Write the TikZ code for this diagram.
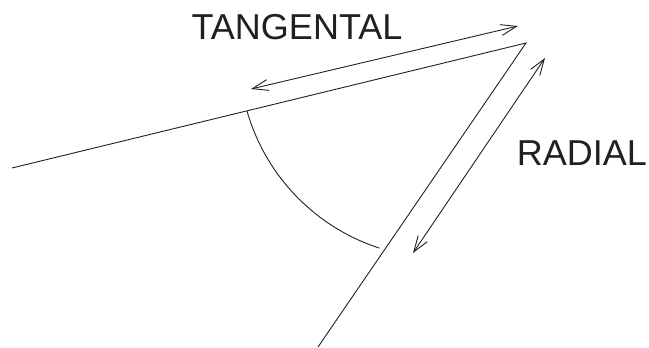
\documentclass[tikz,border=0pt]{standalone}
\usepackage{xcolor}
\usepackage{fontspec}
\setmainfont{Liberation Sans}
\usetikzlibrary{arrows.meta}
\definecolor{inkdark}{HTML}{231F20}

\begin{document}
\begin{tikzpicture}[x=1pt,y=-1pt,
  edge/.style={draw=inkdark,line width=0.9pt},
  arrow/.style={draw=inkdark,line width=0.9pt,{Straight Barb[length=16pt,width=11pt]}-{Straight Barb[length=16pt,width=11pt]}},
  label/.style={text=inkdark,inner sep=0pt,anchor=base,font=\fontsize{36}{40}\selectfont}
]
\useasboundingbox (0,0) rectangle (649,348);
% the two lines meeting at the vertex
\coordinate (vertex) at (526,43);
\coordinate (tanend) at (12,168);
\coordinate (radend) at (318,347);
\draw[edge] (tanend) -- (vertex) -- (radend);
% angle arc
\coordinate (arcstart) at (247,111);
\draw[edge] (arcstart) arc[start angle=164,end angle=108,radius=203];
% direction arrows
\coordinate (tanA) at (251,89);
\coordinate (tanB) at (518,26);
\coordinate (radA) at (545,58);
\coordinate (radB) at (413,253);
\draw[arrow] (tanA) -- (tanB);
\draw[arrow] (radA) -- (radB);
\node[label] (tanlabel) at (297,39) {TANGENTAL};
\node[label] (radlabel) at (582,165) {RADIAL};
\end{tikzpicture}
\end{document}
